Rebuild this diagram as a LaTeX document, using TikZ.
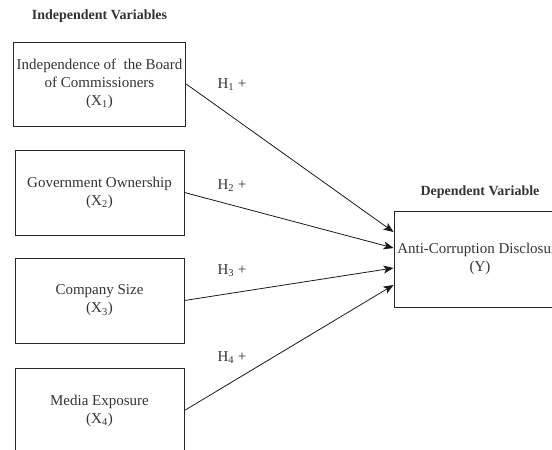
\documentclass[tikz,border=0pt]{standalone}
\usepackage{fontspec}
\setmainfont{Liberation Serif}
\usepackage{tikz}
\usetikzlibrary{positioning, arrows.meta}

\begin{document}
\begin{tikzpicture}[x=1pt, y=-1pt,
    every node/.style={text=black!80, font=\fontsize{15}{18}\selectfont},
    varbox/.style={draw=black!85, line width=0.9pt, minimum width=169pt, minimum height=84pt, align=center},
    headlabel/.style={inner sep=0pt, font=\fontsize{14}{17}\selectfont\bfseries},
    hyp/.style={inner sep=0pt},
    link/.style={draw=black!90, line width=0.8pt, -{Stealth[length=10pt, width=8pt, inset=2.5pt]}}]
    \clip (0,0) rectangle (552,450);

    % Independent variables
    \node[varbox] (X1) at (99.5,84) {Independence of~ the Board\\of Commissioners\\(X\textsubscript{1})};
    \node[varbox, minimum height=85pt] (X2) at (99.5,192.5) {Government Ownership\\(X\textsubscript{2})};
    \node[varbox, minimum height=85pt] (X3) at (99.5,300.5) {Company Size\\(X\textsubscript{3})};
    \node[varbox, minimum height=85pt] (X4) at (99.5,410.5) {Media Exposure\\(X\textsubscript{4})};
    \node[headlabel, above=19pt of X1] (indep) {Independent Variables};

    % Dependent variable
    \node[varbox, minimum width=170pt, minimum height=96pt] (Y) at (480,259) {Anti-Corruption Disclosure\\(Y)};
    \node[headlabel, above=12pt of Y] (dep) {Dependent Variable};

    % Hypotheses
    \draw[link] (X1.east) -- ([yshift=27pt]Y.west);
    \draw[link] (X2.east) -- ([yshift=11pt]Y.west);
    \draw[link] (X3.east) -- ([yshift=-9pt]Y.west);
    \draw[link] (X4.east) -- ([yshift=-26pt]Y.west);

    % Hypothesis labels
    \node[hyp] (h1) at (232,85) {H\textsubscript{1} +};
    \node[hyp] (h2) at (232,186) {H\textsubscript{2} +};
    \node[hyp] (h3) at (232,271) {H\textsubscript{3} +};
    \node[hyp] (h4) at (232,358) {H\textsubscript{4} +};
\end{tikzpicture}
\end{document}
